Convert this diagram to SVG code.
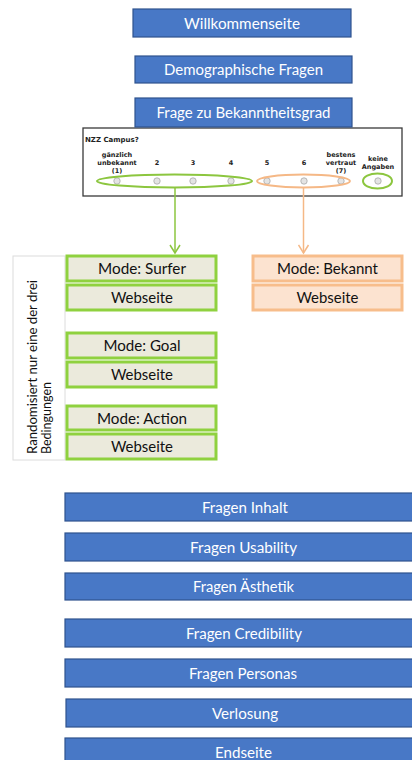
<svg xmlns="http://www.w3.org/2000/svg" width="412" height="760" viewBox="0 0 412 760">
<style>
.blue{fill:#4878c6;stroke:#2f538e;stroke-width:1.2}
.bt{font-family:Lato,"Liberation Sans",sans-serif;font-size:15.5px;fill:#ffffff;text-anchor:middle}
.gbox{fill:#ebeadc;stroke:#8fd13f;stroke-width:3}
.obox{fill:#fce3d0;stroke:#f7bd8b;stroke-width:3}
.mt{font-family:Lato,"Liberation Sans",sans-serif;font-size:16px;fill:#111111;text-anchor:middle}
.st{font-family:"DejaVu Sans",Verdana,sans-serif;font-size:6.5px;font-weight:bold;fill:#222222;text-anchor:middle}
.radio{fill:#e4e4e4;stroke:#a8a8a8;stroke-width:0.8}
.rt{font-family:Lato,"Liberation Sans",sans-serif;font-size:14px;fill:#111111}
</style>
<defs>
<marker id="ag" markerWidth="12" markerHeight="12" refX="10" refY="6" orient="auto" markerUnits="userSpaceOnUse" viewBox="0 0 12 12"><path d="M2,1 L10,6 L2,11" fill="none" stroke="#8cc63f" stroke-width="1.5"/></marker>
<marker id="ao" markerWidth="12" markerHeight="12" refX="10" refY="6" orient="auto" markerUnits="userSpaceOnUse" viewBox="0 0 12 12"><path d="M2,1 L10,6 L2,11" fill="none" stroke="#f5b886" stroke-width="1.5"/></marker>
</defs>
<rect width="412" height="760" fill="#ffffff"/>

<g id="willkommen"><rect class="blue" x="133" y="9" width="218" height="28"/><text class="bt" x="242" y="28.5" textLength="116" lengthAdjust="spacingAndGlyphs">Willkommenseite</text></g>
<g id="demographisch"><rect class="blue" x="135" y="56" width="217" height="27"/><text class="bt" x="243.5" y="75" textLength="159" lengthAdjust="spacingAndGlyphs">Demographische Fragen</text></g>

<g id="survey">
<rect x="83" y="128" width="319" height="68" fill="#ffffff" stroke="#3a3a3a" stroke-width="1.3"/>
<text class="st" x="85" y="142" style="text-anchor:start;font-size:7px">NZZ Campus?</text>
<text class="st" x="117" y="157">gänzlich</text>
<text class="st" x="117" y="165">unbekannt</text>
<text class="st" x="117" y="172.5">(1)</text>
<text class="st" x="157" y="165">2</text>
<text class="st" x="193" y="165">3</text>
<text class="st" x="231" y="165">4</text>
<text class="st" x="267" y="165">5</text>
<text class="st" x="304" y="165">6</text>
<text class="st" x="341" y="157">bestens</text>
<text class="st" x="341" y="165">vertraut</text>
<text class="st" x="341" y="172.5">(7)</text>
<text class="st" x="378" y="161">keine</text>
<text class="st" x="378" y="168.5">Angaben</text>
<circle class="radio" cx="117" cy="181" r="3.2"/>
<circle class="radio" cx="157" cy="181" r="3.2"/>
<circle class="radio" cx="193" cy="181" r="3.2"/>
<circle class="radio" cx="231" cy="181" r="3.2"/>
<circle class="radio" cx="267" cy="181" r="3.2"/>
<circle class="radio" cx="304" cy="181" r="3.2"/>
<circle class="radio" cx="341" cy="181" r="3.2"/>
<circle class="radio" cx="378" cy="181" r="3.2"/>
<ellipse cx="174.5" cy="181" rx="77.5" ry="6.5" fill="none" stroke="#8cc63f" stroke-width="2"/>
<ellipse cx="303.5" cy="181" rx="46.5" ry="6.5" fill="none" stroke="#f5b886" stroke-width="2"/>
<ellipse cx="377.5" cy="181" rx="14.5" ry="7.5" fill="none" stroke="#8cc63f" stroke-width="2"/>
</g>

<g id="bekanntheitsgrad"><rect class="blue" x="135" y="98" width="217" height="29"/><text class="bt" x="243.5" y="117.5" textLength="174" lengthAdjust="spacingAndGlyphs">Frage zu Bekanntheitsgrad</text></g>

<g id="connectors">
<line x1="175" y1="187.5" x2="175" y2="253" stroke="#8cc63f" stroke-width="1.5" marker-end="url(#ag)"/>
<line x1="303.5" y1="187.5" x2="303.5" y2="253" stroke="#f5b886" stroke-width="1.5" marker-end="url(#ao)"/>
</g>

<g id="randomisiert">
<rect x="13" y="256" width="52" height="204" fill="#ffffff" stroke="#dcdcdc" stroke-width="1"/>
<text class="rt" transform="translate(37,454) rotate(-90)" textLength="174" lengthAdjust="spacingAndGlyphs">Randomisiert nur eine der drei</text>
<text class="rt" transform="translate(51,454) rotate(-90)" textLength="72" lengthAdjust="spacingAndGlyphs">Bedingungen</text>
</g>

<g id="surfer"><rect class="gbox" x="67" y="256" width="149" height="25"/><text class="mt" x="142" y="274" textLength="88" lengthAdjust="spacingAndGlyphs">Mode: Surfer</text></g>
<g id="surfer-web"><rect class="gbox" x="67" y="285" width="149" height="25"/><text class="mt" x="142" y="303" textLength="62" lengthAdjust="spacingAndGlyphs">Webseite</text></g>
<g id="goal"><rect class="gbox" x="67" y="333" width="149" height="25"/><text class="mt" x="142" y="351" textLength="77" lengthAdjust="spacingAndGlyphs">Mode: Goal</text></g>
<g id="goal-web"><rect class="gbox" x="67" y="362" width="149" height="25"/><text class="mt" x="142" y="380" textLength="62" lengthAdjust="spacingAndGlyphs">Webseite</text></g>
<g id="action"><rect class="gbox" x="67" y="406" width="149" height="24"/><text class="mt" x="142" y="423.5" textLength="90" lengthAdjust="spacingAndGlyphs">Mode: Action</text></g>
<g id="action-web"><rect class="gbox" x="67" y="434" width="149" height="25"/><text class="mt" x="142" y="452" textLength="62" lengthAdjust="spacingAndGlyphs">Webseite</text></g>

<g id="bekannt"><rect class="obox" x="253" y="256" width="149" height="25"/><text class="mt" x="327.5" y="274" textLength="101" lengthAdjust="spacingAndGlyphs">Mode: Bekannt</text></g>
<g id="bekannt-web"><rect class="obox" x="253" y="285" width="149" height="25"/><text class="mt" x="327.5" y="303" textLength="62" lengthAdjust="spacingAndGlyphs">Webseite</text></g>

<g id="inhalt"><rect class="blue" x="65" y="493" width="360" height="28"/><text class="bt" x="245" y="512.5" textLength="86" lengthAdjust="spacingAndGlyphs">Fragen Inhalt</text></g>
<g id="usability"><rect class="blue" x="65" y="533" width="360" height="28"/><text class="bt" x="243.5" y="552.5" textLength="107" lengthAdjust="spacingAndGlyphs">Fragen Usability</text></g>
<g id="aesthetik"><rect class="blue" x="65" y="573" width="360" height="27"/><text class="bt" x="243.5" y="592" textLength="101" lengthAdjust="spacingAndGlyphs">Fragen Ästhetik</text></g>
<g id="credibility"><rect class="blue" x="65" y="619" width="360" height="28"/><text class="bt" x="244" y="638.5" textLength="116" lengthAdjust="spacingAndGlyphs">Fragen Credibility</text></g>
<g id="personas"><rect class="blue" x="65" y="659" width="360" height="28"/><text class="bt" x="243" y="678.5" textLength="108" lengthAdjust="spacingAndGlyphs">Fragen Personas</text></g>
<g id="verlosung"><rect class="blue" x="66" y="699" width="360" height="28"/><text class="bt" x="245" y="718.5" textLength="66" lengthAdjust="spacingAndGlyphs">Verlosung</text></g>
<g id="endseite"><rect class="blue" x="65" y="738" width="360" height="30"/><text class="bt" x="243.5" y="757.5" textLength="57" lengthAdjust="spacingAndGlyphs">Endseite</text></g>
</svg>
